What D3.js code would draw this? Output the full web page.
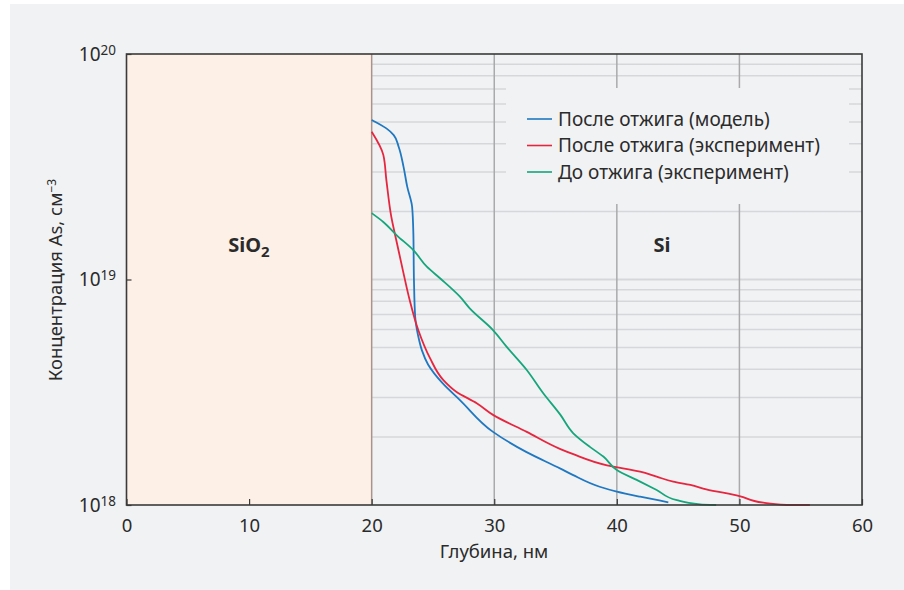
<!DOCTYPE html>
<html>
<head>
<meta charset="utf-8">
<script src="https://cdn.jsdelivr.net/npm/d3@7"></script>
<style>
  body { margin: 0; background: #fff; }
  svg { display: block; }
</style>
</head>
<body>
<svg id="chart" width="904" height="590"></svg>
<script>
// depth (nm) and As concentration (cm^-3)
const modelDepth = [20.0, 21.2, 21.8, 22.2, 22.6, 22.9, 23.3, 23.4, 23.45, 23.55, 23.8, 24.1, 24.6, 25.8, 27.2, 29.9, 32.6, 35.4, 36.4, 38.6, 40.0, 41.9, 44.2];
const modelConc = [5.1e19, 4.68e19, 4.37e19, 3.88e19, 3.16e19, 2.58e19, 2.1e19, 1.61e19, 9.95e18, 6.84e18, 5.6e18, 4.85e18, 4.2e18, 3.46e18, 2.92e18, 2.11e18, 1.72e18, 1.45e18, 1.36e18, 1.205e18, 1.146e18, 1.088e18, 1.028e18];

const annealDepth = [20.0, 20.95, 21.2, 21.6, 22.0, 22.6, 23.1, 23.8, 24.75, 25.85, 26.9, 28.6, 29.9, 32.65, 35.4, 36.45, 39.2, 41.9, 43.25, 44.6, 46.0, 47.3, 50.0, 51.95, 53.85, 55.75];
const annealConc = [4.52e19, 3.57e19, 2.76e19, 1.9e19, 1.5e19, 1.065e19, 8.11e18, 5.97e18, 4.49e18, 3.58e18, 3.18e18, 2.82e18, 2.51e18, 2.11e18, 1.77e18, 1.68e18, 1.5e18, 1.405e18, 1.335e18, 1.27e18, 1.227e18, 1.174e18, 1.096e18, 1.024e18, 1.0e18, 1.0e18];

const initDepth = [20.0, 20.95, 22.05, 23.4, 24.5, 25.6, 27.2, 28.0, 29.9, 31.0, 32.65, 34.0, 35.4, 36.45, 37.8, 38.9, 40.0, 41.9, 43.25, 44.9, 46.8, 48.1];
const initConc = [1.97e19, 1.8e19, 1.57e19, 1.35e19, 1.14e19, 1.01e19, 8.39e18, 7.45e18, 5.97e18, 5.04e18, 3.97e18, 3.13e18, 2.51e18, 2.08e18, 1.81e18, 1.64e18, 1.43e18, 1.27e18, 1.166e18, 1.05e18, 1.007e18, 1.0e18];

const seriesNames = ["После отжига (модель)", "После отжига (эксперимент)", "До отжига (эксперимент)"];
const seriesColors = ["#1f78c1", "#e6263f", "#16a67b"];
const xTicks = [0, 10, 20, 30, 40, 50, 60];
const yTicks = [1e18, 1e19, 1e20];
const xGrid = [30, 40, 50];
const oxideEdge = 20;

const W = 904, H = 590;
const FONT = "'Noto Sans', 'Open Sans', sans-serif";
const TXT = "#2b2b2b";
const BG = "#f1f2f4";

const svg = d3.select("#chart");

// panel
svg.append("rect").attr("x", 10).attr("y", 4).attr("width", W - 10).attr("height", H - 4).attr("fill", BG);

const L = 126.5, R = 862, T = 54, B = 505;
const x = d3.scaleLinear().domain([0, 60]).range([L, R]);
const y = d3.scaleLog().domain([1e18, 1e20]).range([B, T]);

// SiO2 region
svg.append("rect")
  .attr("x", x(0)).attr("y", T)
  .attr("width", x(oxideEdge) - x(0)).attr("height", B - T)
  .attr("fill", "#fdf0e6");

// horizontal log grid (Si side only)
const hLines = y.ticks().filter(v => v > 1e18 && v < 1e20);
svg.append("g").selectAll("line")
  .data(hLines).join("line")
  .attr("x1", x(oxideEdge)).attr("x2", R)
  .attr("y1", d => y(d)).attr("y2", d => y(d))
  .attr("stroke", "#d6d7da")
  .attr("stroke-width", d => Math.abs(Math.log10(d) - 19) < 1e-6 ? 2 : 1.5);

// vertical grid
svg.append("g").selectAll("line")
  .data(xGrid).join("line")
  .attr("x1", d => x(d)).attr("x2", d => x(d))
  .attr("y1", T).attr("y2", B)
  .attr("stroke", "#a9aaac").attr("stroke-width", 1.5);

// oxide / silicon boundary
svg.append("line")
  .attr("x1", x(oxideEdge)).attr("x2", x(oxideEdge))
  .attr("y1", T).attr("y2", B)
  .attr("stroke", "#a8948a").attr("stroke-width", 1.5);

// legend background hides grid
svg.append("rect")
  .attr("x", 506).attr("y", 88).attr("width", 343).attr("height", 116)
  .attr("fill", BG);

// curves
const line = d3.line().x(d => x(d[0])).y(d => y(d[1])).curve(d3.curveMonotoneY);
const allSeries = [
  d3.zip(modelDepth, modelConc),
  d3.zip(annealDepth, annealConc),
  d3.zip(initDepth, initConc)
];
svg.append("g").selectAll("path")
  .data(allSeries).join("path")
  .attr("d", line)
  .attr("fill", "none")
  .attr("stroke", (d, i) => seriesColors[i])
  .attr("stroke-width", 1.8);

// x axis
svg.append("g")
  .attr("transform", `translate(0,${B})`)
  .call(d3.axisBottom(x).tickValues(xTicks).tickSize(-6).tickPadding(14))
  .call(ax => {
    ax.select(".domain").remove();
    ax.selectAll(".tick line").attr("stroke", "#3a3a3a").attr("stroke-width", 1.2);
    ax.selectAll(".tick text").style("fill", TXT).style("font-size", "18.5px").style("font-family", FONT);
  });

// y axis
svg.append("g")
  .attr("transform", `translate(${L},0)`)
  .call(d3.axisLeft(y).tickValues(yTicks).tickSize(-5).tickPadding(10.5).tickFormat(() => ""))
  .call(ax => {
    ax.select(".domain").remove();
    ax.selectAll(".tick line").attr("stroke", "#3a3a3a").attr("stroke-width", 1.2);
    ax.selectAll(".tick text")
      .style("fill", TXT).style("font-size", "19px").style("font-family", FONT)
      .attr("dy", "0.32em")
      .each(function(d) {
        const t = d3.select(this);
        t.append("tspan").text("10");
        t.append("tspan").attr("dy", "-0.45em").style("font-size", "13.5px").text(Math.round(Math.log10(d)));
      });
  });

// frame
svg.append("rect")
  .attr("x", L).attr("y", T).attr("width", R - L).attr("height", B - T)
  .attr("fill", "none").attr("stroke", "#3a3a3a").attr("stroke-width", 1.6);

// region labels
const sio2 = svg.append("text")
  .attr("x", 249).attr("y", 252).attr("text-anchor", "middle")
  .style("font-family", FONT).style("font-size", "20px").style("font-weight", "700").style("fill", TXT);
sio2.append("tspan").text("SiO");
sio2.append("tspan").attr("dy", "0.3em").style("font-size", "15px").text("2");

svg.append("text")
  .attr("x", 662).attr("y", 252).attr("text-anchor", "middle")
  .style("font-family", FONT).style("font-size", "20px").style("font-weight", "700").style("fill", TXT)
  .text("Si");

// legend
const legendY = [119, 145.5, 172];
const lg = svg.append("g");
seriesNames.forEach((name, i) => {
  lg.append("line")
    .attr("x1", 527).attr("x2", 552)
    .attr("y1", legendY[i]).attr("y2", legendY[i])
    .attr("stroke", seriesColors[i]).attr("stroke-width", 1.6);
  lg.append("text")
    .attr("x", 558).attr("y", legendY[i] + 6.5)
    .style("font-family", FONT).style("font-size", "19px").style("fill", TXT)
    .text(name);
});

// axis titles
svg.append("text")
  .attr("x", 494).attr("y", 558).attr("text-anchor", "middle")
  .style("font-family", FONT).style("font-size", "18.5px").style("fill", TXT)
  .text("Глубина, нм");

const yt = svg.append("text")
  .attr("transform", "translate(62,280) rotate(-90)")
  .attr("text-anchor", "middle")
  .style("font-family", FONT).style("font-size", "18.5px").style("fill", TXT);
yt.append("tspan").text("Концентрация As, см");
yt.append("tspan").attr("dy", "-0.5em").style("font-size", "12px").text("−3");
</script>
</body>
</html>
